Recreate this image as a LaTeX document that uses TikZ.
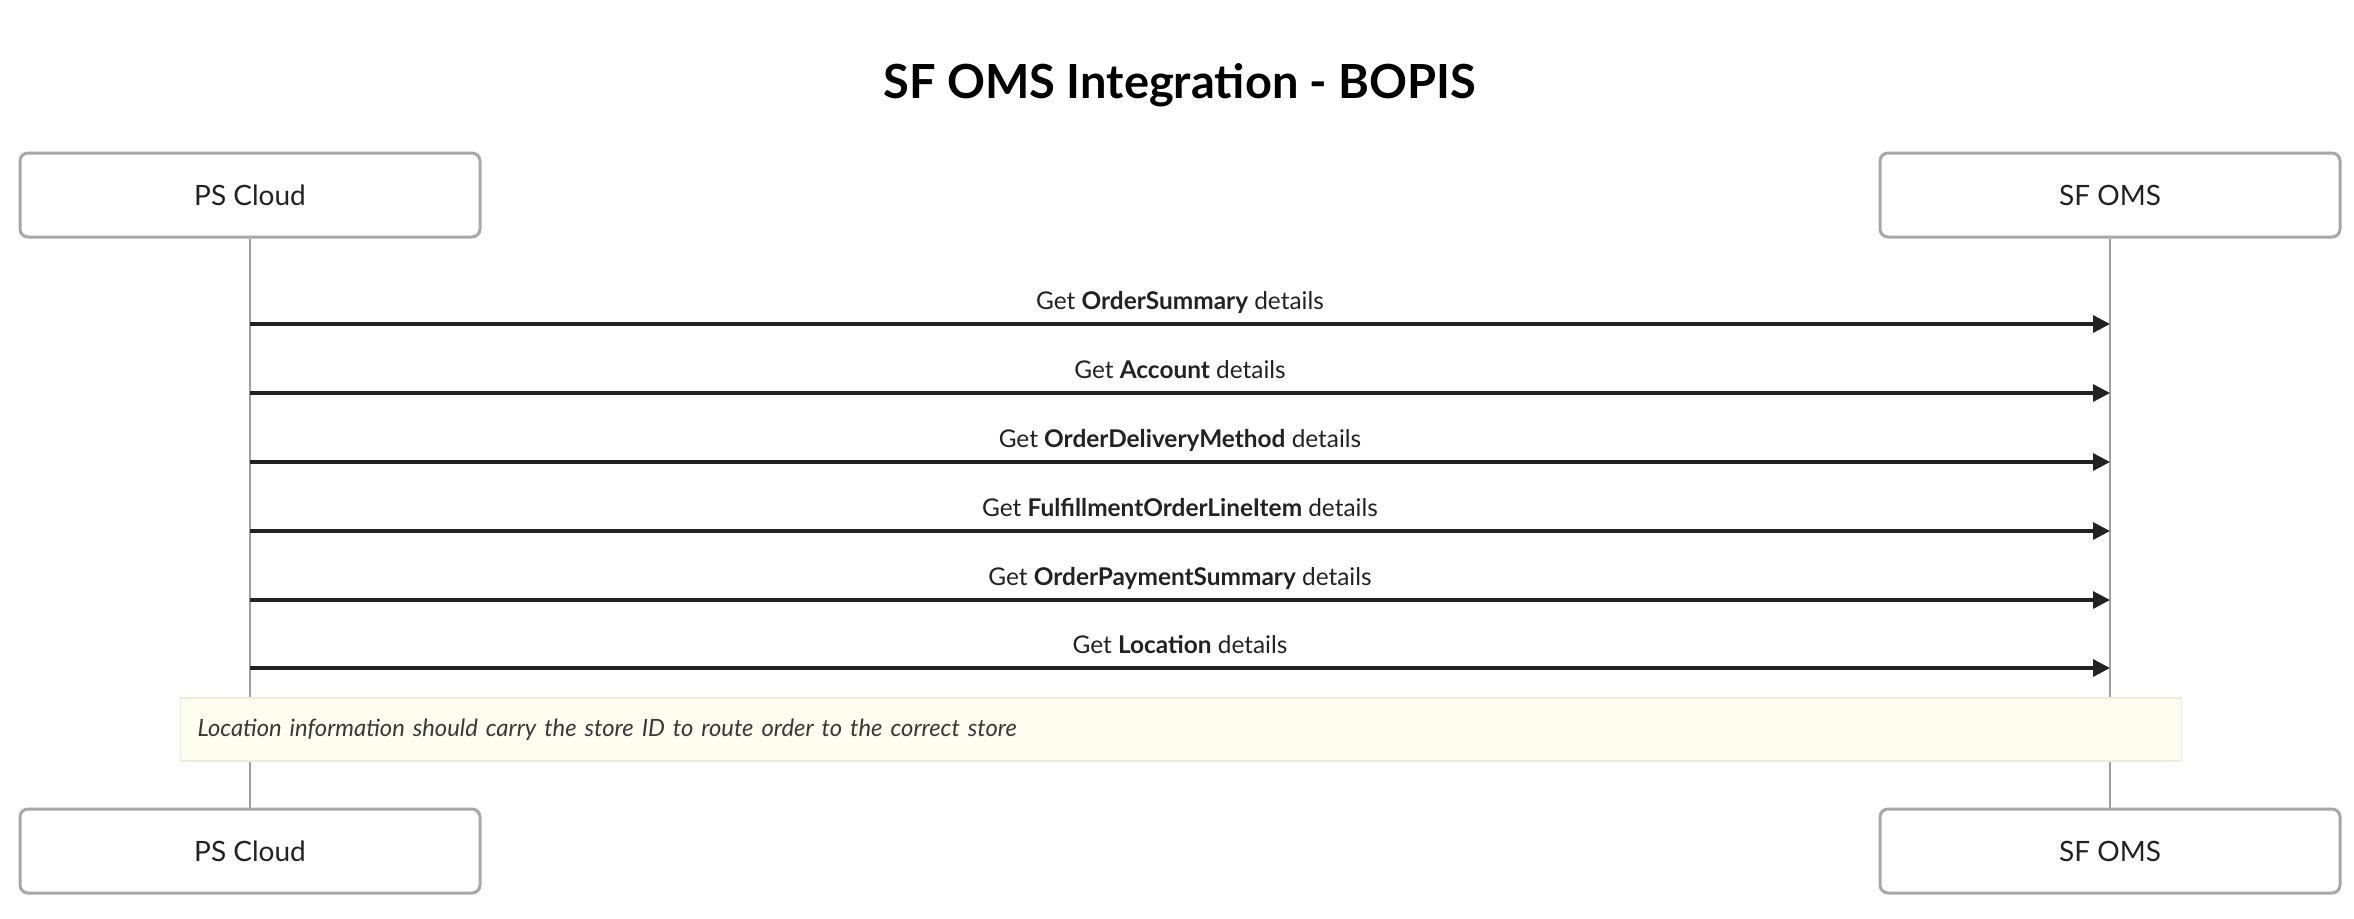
\documentclass[tikz,border=0pt]{standalone}
\usepackage{fontspec}
\setmainfont{Lato}
\usetikzlibrary{arrows.meta}
\definecolor{notefill}{HTML}{FEFDF0}
\definecolor{noteedge}{HTML}{EEEBD6}
\definecolor{boxedge}{HTML}{A8A8A8}
\definecolor{lifegray}{HTML}{A0A0A0}
\definecolor{inkdark}{HTML}{222222}

\begin{document}
\begin{tikzpicture}[x=0.5pt, y=-0.5pt,
    actor/.style={draw=boxedge, line width=1.5pt, rounded corners=4pt, fill=white,
      minimum width=230pt, minimum height=42pt, text=inkdark,
      font=\fontsize{14}{16}\selectfont},
    lifeline/.style={draw=lifegray, line width=1.1pt},
    msg/.style={draw=inkdark, line width=1.6pt, -{Triangle[length=8.5pt,width=8.5pt]}},
    msglabel/.style={above=6.5pt, inner sep=0pt, text depth=0pt, text=inkdark,
      font=\fontsize{12.2}{14}\selectfont},
    note/.style={fill=notefill, draw=noteedge, line width=0.6pt, anchor=west,
      minimum height=31.5pt, inner xsep=8.5pt, text width=983.5pt, align=left,
      text=inkdark!90, font=\itshape\fontsize{11.9}{14}\selectfont}]
        \useasboundingbox (0,0) rectangle (2354,918);

        % Title
        \node[anchor=base, text=black, font=\bfseries\fontsize{23.5}{28}\selectfont] (title) at (1180,98) {SF OMS Integration - BOPIS};

        % Participants
        \node[actor] (pstop) at (250,195) {PS Cloud};
        \node[actor] (sftop) at (2110,195) {SF OMS};
        \node[actor] (psbot) at (250,851) {PS Cloud};
        \node[actor] (sfbot) at (2110,851) {SF OMS};

        % Lifelines
        \draw[lifeline] (pstop) -- (psbot);
        \draw[lifeline] (sftop) -- (sfbot);

        % Points on the lifelines
        \coordinate (ps1) at (250,324); \coordinate (sf1) at (2110,324);
        \coordinate (ps2) at (250,393); \coordinate (sf2) at (2110,393);
        \coordinate (ps3) at (250,462); \coordinate (sf3) at (2110,462);
        \coordinate (ps4) at (250,531); \coordinate (sf4) at (2110,531);
        \coordinate (ps5) at (250,600); \coordinate (sf5) at (2110,600);
        \coordinate (ps6) at (250,668); \coordinate (sf6) at (2110,668);

        % Requests from PS Cloud to SF OMS
        \draw[msg] (ps1) -- node[msglabel] {Get \textbf{OrderSummary} details} (sf1);
        \draw[msg] (ps2) -- node[msglabel] {Get \textbf{Account} details} (sf2);
        \draw[msg] (ps3) -- node[msglabel] {Get \textbf{OrderDeliveryMethod} details} (sf3);
        \draw[msg] (ps4) -- node[msglabel] {Get \textbf{FulfillmentOrderLineItem} details} (sf4);
        \draw[msg] (ps5) -- node[msglabel] {Get \textbf{OrderPaymentSummary} details} (sf5);
        \draw[msg] (ps6) -- node[msglabel] {Get \textbf{Location} details} (sf6);

        % Note over both lifelines
        \node[note] (locnote) at (180,729.5) {Location information should carry the store ID to route order to the correct store};
    \end{tikzpicture}
\end{document}
